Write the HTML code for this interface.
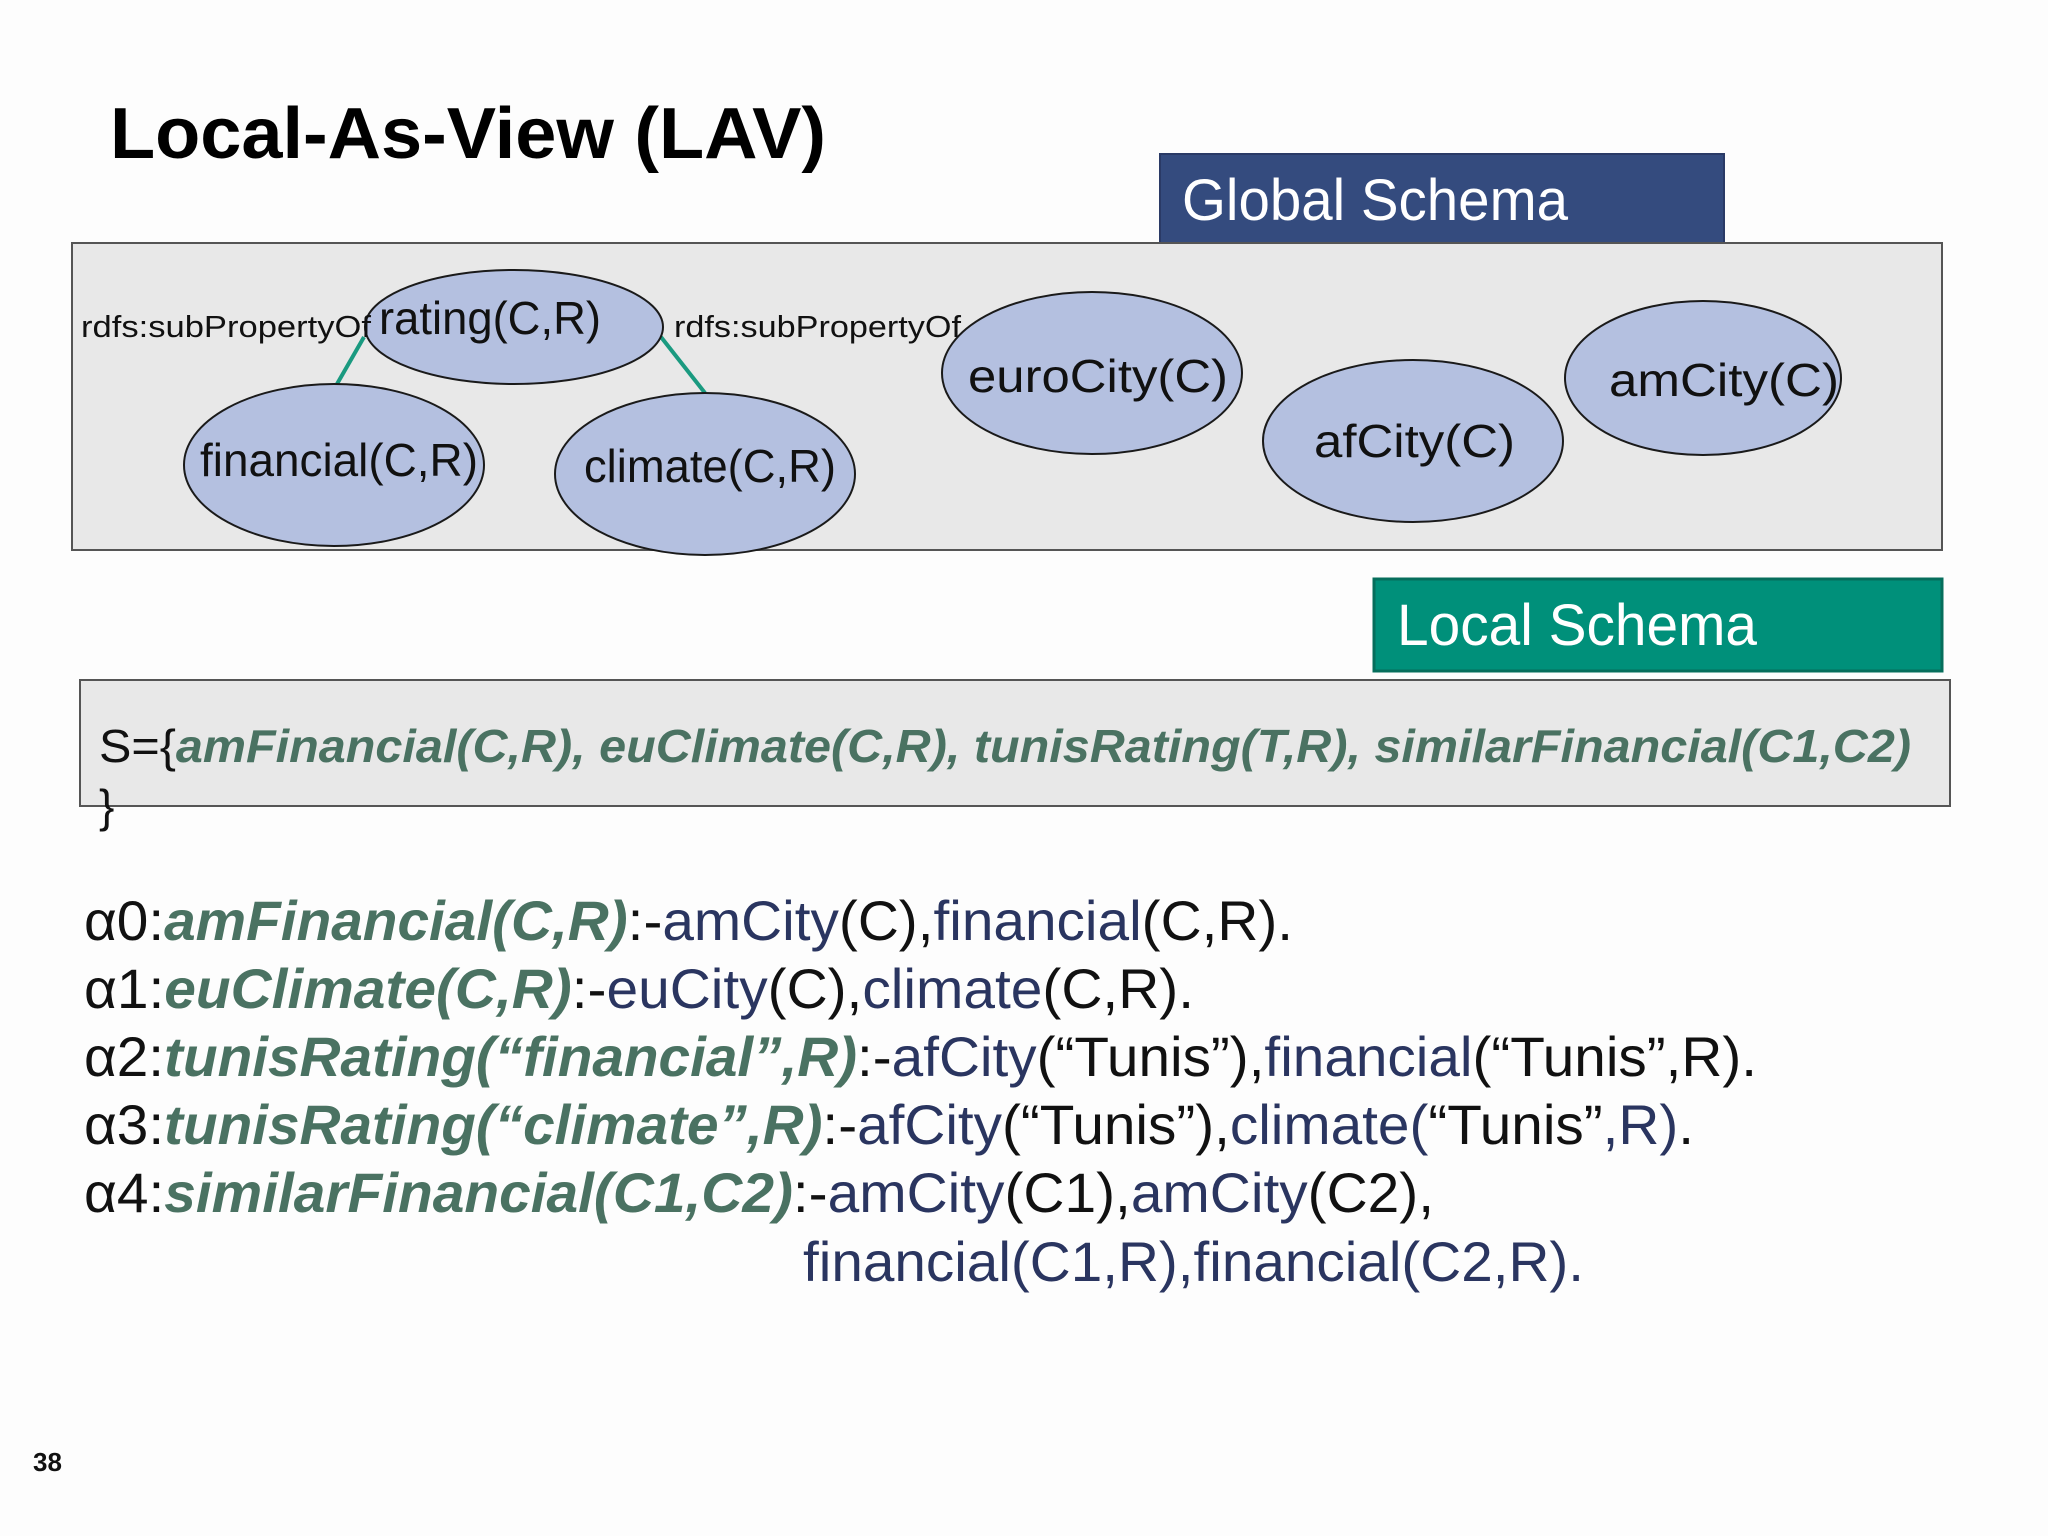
<!DOCTYPE html>
<html><head><meta charset="utf-8"><style>
html,body{margin:0;padding:0;background:#fff;}
svg{display:block;}
text{font-family:"Liberation Sans",Arial,sans-serif;}
.g{fill:#4a7262;font-style:italic;font-weight:bold;}
.n{fill:#2a3560;}
.k{fill:#111;}
</style></head><body>
<svg width="2048" height="1536" viewBox="0 0 2048 1536" xmlns="http://www.w3.org/2000/svg">
<rect width="2048" height="1536" fill="#fdfdfd"/>
<text x="110" y="158" font-size="72" font-weight="bold" fill="#000" textLength="716" lengthAdjust="spacingAndGlyphs">Local-As-View (LAV)</text>

<rect x="1160" y="154" width="564" height="90" fill="#344b7e" stroke="#2a3a66" stroke-width="2"/>
<text x="1182" y="220" font-size="58" fill="#fff" textLength="386" lengthAdjust="spacingAndGlyphs">Global Schema</text>

<rect x="72" y="243" width="1870" height="307" fill="#e8e8e8" stroke="#555" stroke-width="2"/>

<line x1="364" y1="337" x2="337" y2="384" stroke="#1a9a80" stroke-width="4"/>
<line x1="661" y1="337" x2="705" y2="393" stroke="#1a9a80" stroke-width="4"/>

<g fill="#b4c0e0" stroke="#1a1a1a" stroke-width="2">
<ellipse cx="514" cy="327" rx="149" ry="57"/>
<ellipse cx="334" cy="465" rx="150" ry="81"/>
<ellipse cx="705" cy="474" rx="150" ry="81"/>
<ellipse cx="1092" cy="373" rx="150" ry="81"/>
<ellipse cx="1413" cy="441" rx="150" ry="81"/>
<ellipse cx="1703" cy="378" rx="138" ry="77"/>
</g>
<g font-size="46" fill="#111">
<text x="379" y="334" textLength="222" lengthAdjust="spacingAndGlyphs">rating(C,R)</text>
<text x="200" y="476" textLength="278" lengthAdjust="spacingAndGlyphs">financial(C,R)</text>
<text x="584" y="482" textLength="252" lengthAdjust="spacingAndGlyphs">climate(C,R)</text>
<text x="968" y="392" textLength="260" lengthAdjust="spacingAndGlyphs">euroCity(C)</text>
<text x="1314" y="457" textLength="201" lengthAdjust="spacingAndGlyphs">afCity(C)</text>
<text x="1609" y="396" textLength="230" lengthAdjust="spacingAndGlyphs">amCity(C)</text>
</g>
<g font-size="31" fill="#111">
<text x="81" y="337" textLength="290" lengthAdjust="spacingAndGlyphs">rdfs:subPropertyOf</text>
<text x="674" y="337" textLength="287" lengthAdjust="spacingAndGlyphs">rdfs:subPropertyOf</text>
</g>

<rect x="1374" y="579" width="568" height="92" fill="#00907a" stroke="#066e5c" stroke-width="3"/>
<text x="1397" y="645" font-size="58" fill="#fff" textLength="360" lengthAdjust="spacingAndGlyphs">Local Schema</text>

<rect x="80" y="680" width="1870" height="126" fill="#e8e8e8" stroke="#555" stroke-width="2"/>
<text x="99" y="762" font-size="46" textLength="1812" lengthAdjust="spacingAndGlyphs"><tspan class="k">S={</tspan><tspan class="g">amFinancial(C,R), euClimate(C,R), tunisRating(T,R), similarFinancial(C1,C2)</tspan></text>
<text x="99" y="822" font-size="46" class="k">}</text>

<g font-size="56">
<text x="84" y="940" textLength="1209" lengthAdjust="spacingAndGlyphs"><tspan class="k">α0:</tspan><tspan class="g">amFinancial(C,R)</tspan><tspan class="k">:-</tspan><tspan class="n">amCity</tspan><tspan class="k">(C),</tspan><tspan class="n">financial</tspan><tspan class="k">(C,R).</tspan></text>
<text x="84" y="1008" textLength="1110" lengthAdjust="spacingAndGlyphs"><tspan class="k">α1:</tspan><tspan class="g">euClimate(C,R)</tspan><tspan class="k">:-</tspan><tspan class="n">euCity</tspan><tspan class="k">(C),</tspan><tspan class="n">climate</tspan><tspan class="k">(C,R).</tspan></text>
<text x="84" y="1076" textLength="1673" lengthAdjust="spacingAndGlyphs"><tspan class="k">α2:</tspan><tspan class="g">tunisRating(“financial”,R)</tspan><tspan class="k">:-</tspan><tspan class="n">afCity</tspan><tspan class="k">(“Tunis”),</tspan><tspan class="n">financial</tspan><tspan class="k">(“Tunis”,R).</tspan></text>
<text x="84" y="1144" textLength="1610" lengthAdjust="spacingAndGlyphs"><tspan class="k">α3:</tspan><tspan class="g">tunisRating(“climate”,R)</tspan><tspan class="k">:-</tspan><tspan class="n">afCity</tspan><tspan class="k">(“Tunis”),</tspan><tspan class="n">climate(</tspan><tspan class="k">“Tunis”</tspan><tspan class="n">,R)</tspan><tspan class="k">.</tspan></text>
<text x="84" y="1212" textLength="1350" lengthAdjust="spacingAndGlyphs"><tspan class="k">α4:</tspan><tspan class="g">similarFinancial(C1,C2)</tspan><tspan class="k">:-</tspan><tspan class="n">amCity</tspan><tspan class="k">(C1),</tspan><tspan class="n">amCity</tspan><tspan class="k">(C2),</tspan></text>
<text x="803" y="1281" textLength="781" lengthAdjust="spacingAndGlyphs" class="n">financial(C1,R),financial(C2,R).</text>
</g>

<text x="33" y="1471" font-size="26" font-weight="bold" fill="#111">38</text>
</svg>
</body></html>
